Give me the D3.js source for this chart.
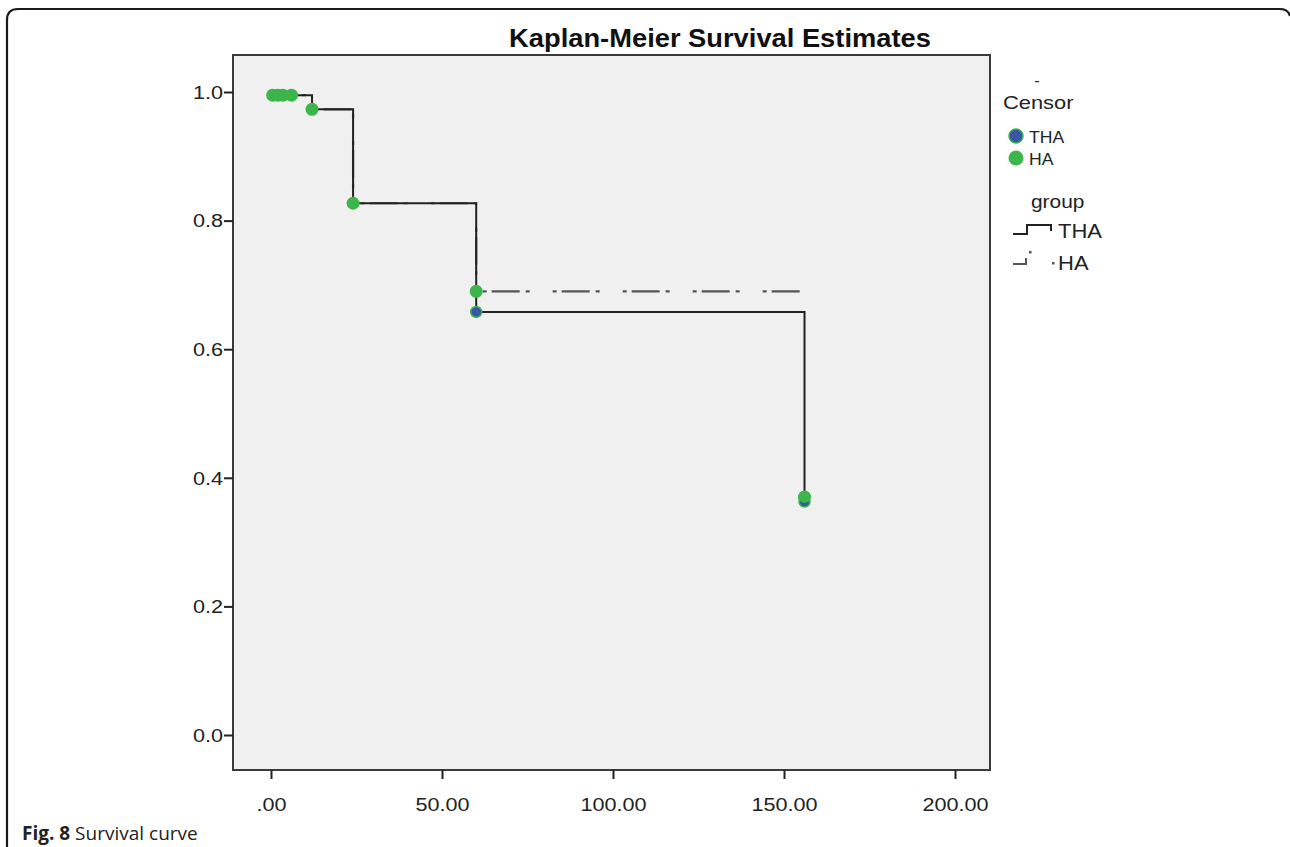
<!DOCTYPE html>
<html>
<head>
<meta charset="utf-8">
<script src="https://cdn.jsdelivr.net/npm/d3@7"></script>
<style>
  body { margin: 0; background: #fff; }
  svg { display: block; }
</style>
</head>
<body>
<svg id="svg" width="1290" height="847"></svg>
<script>
// survival steps (time in months, cumulative survival)
const thaTimes = [0, 1, 12, 24, 60, 156];
const thaSurv  = [1.0, 0.995, 0.973, 0.827, 0.658, 0.363];
const haTimes  = [0, 1, 12, 24, 60, 155];
const haSurv   = [1.0, 0.995, 0.973, 0.827, 0.69, 0.69];

// censored observations
const thaCensorT = [60, 156];
const thaCensorS = [0.658, 0.363];
const haCensorT  = [0.5, 2, 3.5, 6, 12, 24, 60, 156];
const haCensorS  = [0.995, 0.995, 0.995, 0.995, 0.973, 0.827, 0.69, 0.37];

const xTicks = [0, 50, 100, 150, 200];
const yTicks = [0, 0.2, 0.4, 0.6, 0.8, 1.0];

const svg = d3.select("svg");
const plot = { left: 233, top: 55, right: 990, bottom: 770 };

const x = d3.scaleLinear().domain([0, 200]).range([271, 955]);
const y = d3.scaleLinear().domain([0, 1]).range([735, 92]);

// the original SPSS text is a bit stretched sideways
function widen(sel, k) {
  sel.each(function() {
    const w = this.getComputedTextLength();
    d3.select(this).attr("textLength", w * k).attr("lengthAdjust", "spacingAndGlyphs");
  });
}

// figure frame (rounded corner box)
svg.append("path")
  .attr("d", "M7,847 L7,20 Q7,9 18,9 L1280,9 Q1288,9 1290,16")
  .attr("fill", "none").attr("stroke", "#1a1a1a").attr("stroke-width", 2.2);

// title
svg.append("text")
  .attr("x", 720).attr("y", 47)
  .attr("text-anchor", "middle")
  .style("font", "bold 26px 'Liberation Sans', Arial, sans-serif")
  .attr("fill", "#111")
  .text("Kaplan-Meier Survival Estimates")
  .call(widen, 1.05);

// plot background
svg.append("rect")
  .attr("x", plot.left).attr("y", plot.top)
  .attr("width", plot.right - plot.left).attr("height", plot.bottom - plot.top)
  .attr("fill", "#f0f0f0").attr("stroke", "#3a3a3a").attr("stroke-width", 2);

// axes
const axFont = "18px 'Liberation Sans', Arial, sans-serif";
const yAxis = svg.append("g").attr("transform", "translate(" + plot.left + ",0)")
  .call(d3.axisLeft(y).tickValues(yTicks).tickFormat(d3.format(".1f")).tickSize(9).tickSizeOuter(0));
const xAxis = svg.append("g").attr("transform", "translate(0," + plot.bottom + ")")
  .call(d3.axisBottom(x).tickValues(xTicks)
    .tickFormat(d => d === 0 ? ".00" : d3.format(".2f")(d)).tickSize(9).tickSizeOuter(0));
[yAxis, xAxis].forEach(a => {
  a.select(".domain").remove();
  a.selectAll(".tick line").attr("stroke", "#222").attr("stroke-width", 2);
  a.selectAll(".tick text").style("font", axFont).attr("fill", "#222").call(widen, 1.2);
});
yAxis.selectAll(".tick text").attr("x", -10).attr("dy", "0.35em");
xAxis.selectAll(".tick text").attr("y", 28);

// survival curves
const step = d3.line()
  .x(d => x(d[0])).y(d => y(d[1]))
  .curve(d3.curveStepAfter);

svg.append("path")
  .attr("d", step(haTimes.map((t, i) => [t, haSurv[i]])))
  .attr("fill", "none").attr("stroke", "#555").attr("stroke-width", 2.2)
  .attr("stroke-dasharray", "28,6,4,23,4,5");

svg.append("path")
  .attr("d", step(thaTimes.map((t, i) => [t, thaSurv[i]])))
  .attr("fill", "none").attr("stroke", "#222").attr("stroke-width", 2);

// censor markers
const green = "#3cb54a", blue = "#3b56a6";
svg.append("g").selectAll("circle")
  .data(haCensorT.map((t, i) => [t, haCensorS[i]]))
  .join("circle")
  .attr("cx", d => x(d[0])).attr("cy", d => y(d[1])).attr("r", 6.5)
  .attr("fill", green);
svg.append("g").selectAll("circle")
  .data(thaCensorT.map((t, i) => [t, thaCensorS[i]]))
  .join("circle")
  .attr("cx", d => x(d[0])).attr("cy", d => y(d[1])).attr("r", 5.5)
  .attr("fill", blue).attr("stroke", green).attr("stroke-width", 1.5);
// the green at 156 sits on top of the blue one
svg.append("circle").attr("cx", x(156)).attr("cy", y(0.37)).attr("r", 6)
  .attr("fill", green);

// legend
const lg = svg.append("g");
const lf = "'Liberation Sans', Arial, sans-serif";
lg.append("text").attr("x", 1037).attr("y", 86).attr("text-anchor", "middle")
  .style("font", "16px " + lf).attr("fill", "#222").text("-");
lg.append("text").attr("x", 1003).attr("y", 109)
  .style("font", "19px " + lf).attr("fill", "#222").text("Censor").call(widen, 1.15);
lg.append("circle").attr("cx", 1016).attr("cy", 136).attr("r", 7)
  .attr("fill", blue).attr("stroke", green).attr("stroke-width", 1.5);
lg.append("text").attr("x", 1029).attr("y", 143)
  .style("font", "16px " + lf).attr("fill", "#222").text("THA").call(widen, 1.1);
lg.append("circle").attr("cx", 1016).attr("cy", 158).attr("r", 7.5).attr("fill", green);
lg.append("text").attr("x", 1029).attr("y", 165)
  .style("font", "16px " + lf).attr("fill", "#222").text("HA").call(widen, 1.1);

lg.append("text").attr("x", 1031).attr("y", 208)
  .style("font", "19px " + lf).attr("fill", "#222").text("group").call(widen, 1.1);
lg.append("path").attr("d", "M1013,234 L1027,234 L1027,225 L1051,225 L1051,231")
  .attr("fill", "none").attr("stroke", "#222").attr("stroke-width", 2);
lg.append("text").attr("x", 1058).attr("y", 238)
  .style("font", "20px " + lf).attr("fill", "#222").text("THA").call(widen, 1.1);
lg.append("path").attr("d", "M1013,264 L1026,264 L1026,258")
  .attr("fill", "none").attr("stroke", "#555").attr("stroke-width", 2);
lg.append("rect").attr("x", 1029).attr("y", 251).attr("width", 2.5).attr("height", 2.5).attr("fill", "#555");
lg.append("rect").attr("x", 1052).attr("y", 262).attr("width", 2.5).attr("height", 2.5).attr("fill", "#555");
lg.append("text").attr("x", 1058).attr("y", 270)
  .style("font", "20px " + lf).attr("fill", "#222").text("HA").call(widen, 1.1);

// caption
const cap = svg.append("text").attr("x", 22).attr("y", 840)
  .style("font", "19px 'Open Sans', sans-serif").attr("fill", "#222");
cap.append("tspan").attr("font-weight", "bold").text("Fig. 8");
cap.append("tspan").text(" Survival curve");
</script>
</body>
</html>
